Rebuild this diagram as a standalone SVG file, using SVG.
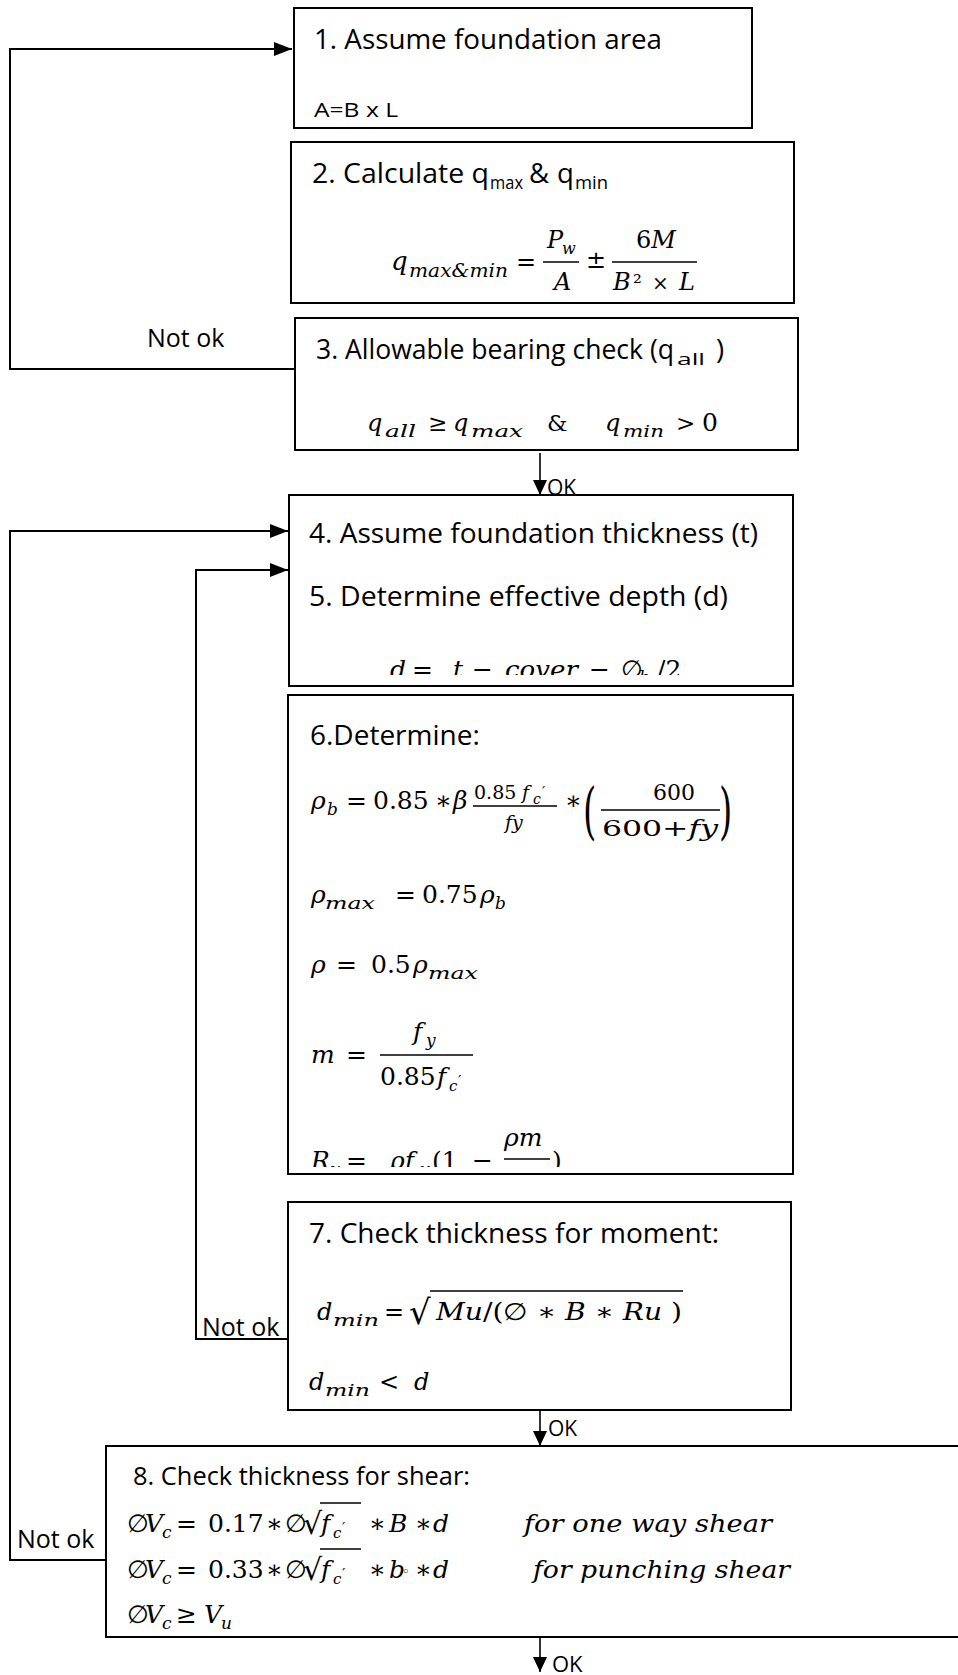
<svg xmlns="http://www.w3.org/2000/svg" width="958" height="1675" viewBox="0 0 958 1675">
<style>
.box{fill:#fff;stroke:#000;stroke-width:2}
.t{font-family:"Open Sans","Liberation Sans",sans-serif;fill:#000}
.mi{font-family:"DejaVu Serif","Liberation Serif",serif;font-style:italic;fill:#000}
.mn{font-family:"DejaVu Serif","Liberation Serif",serif;font-style:normal;fill:#000}
.conn{fill:none;stroke:#000;stroke-width:2}
.ok{fill:none;stroke:#000;stroke-width:1.6}
.bar{stroke:#000;stroke-width:1.4}
</style>
<defs>
<marker id="ah" markerUnits="userSpaceOnUse" markerWidth="18" markerHeight="14" refX="18" refY="7" orient="auto"><path d="M0,0 L18,7 L0,14 z" fill="#000"/></marker>
<marker id="ahs" markerUnits="userSpaceOnUse" markerWidth="15" markerHeight="14" refX="15" refY="7" orient="auto"><path d="M0,0 L15,7 L0,14 z" fill="#000"/></marker>
<clipPath id="c4"><rect x="289" y="496" width="503" height="179"/></clipPath>
<clipPath id="c6"><rect x="289" y="696" width="503" height="471"/></clipPath>
</defs>

<g id="connectors">
<polyline class="conn" points="300,369 10,369 10,49 292,49" marker-end="url(#ah)"/>
<polyline class="conn" points="106,1560 10,1560 10,531 288,531" marker-end="url(#ah)"/>
<polyline class="conn" points="288,1339 196,1339 196,570 288,570" marker-end="url(#ah)"/>
<line class="ok" x1="540" y1="453" x2="540" y2="495" marker-end="url(#ahs)"/>
<line class="ok" x1="540" y1="1408" x2="540" y2="1446" marker-end="url(#ahs)"/>
<line class="ok" x1="540" y1="1630" x2="540" y2="1672" marker-end="url(#ahs)"/>
<text class="t" x="147" y="347" font-size="25">Not ok</text>
<text class="t" x="202" y="1336" font-size="25">Not ok</text>
<text class="t" x="17" y="1548" font-size="25">Not ok</text>
<text class="t" x="547" y="495" font-size="21">OK</text>
<text class="t" x="548" y="1436" font-size="21">OK</text>
<text class="t" x="552" y="1672" font-size="22">OK</text>
</g>

<g id="node1">
<rect class="box" x="294" y="8" width="458" height="120"/>
<text class="t" x="314" y="49" font-size="27.5" textLength="348" lengthAdjust="spacingAndGlyphs">1. Assume foundation area</text>
<text class="t" x="314" y="117" font-size="20" textLength="84" lengthAdjust="spacingAndGlyphs">A=B x L</text>
</g>

<g id="node2">
<rect class="box" x="291" y="142" width="503" height="161"/>
<text class="t" x="312" y="183" font-size="27.5" textLength="177" lengthAdjust="spacingAndGlyphs">2. Calculate q</text>
<text class="t" x="490" y="189" font-size="18" textLength="33" lengthAdjust="spacingAndGlyphs">max</text>
<text class="t" x="529" y="183" font-size="27.5">&amp;</text>
<text class="t" x="557" y="183" font-size="27.5">q</text>
<text class="t" x="575" y="189" font-size="18" textLength="33" lengthAdjust="spacingAndGlyphs">min</text>
<text class="mi" x="391" y="270" font-size="26">q</text>
<text class="mi" x="409" y="277" font-size="19" textLength="99" lengthAdjust="spacingAndGlyphs">max&amp;min</text>
<text class="mn" x="516" y="270" font-size="24">=</text>
<line class="bar" x1="543" y1="262" x2="579" y2="262"/>
<text class="mi" x="547" y="248" font-size="24">P</text>
<text class="mi" x="562" y="254" font-size="16">w</text>
<text class="mi" x="554" y="290" font-size="24">A</text>
<text class="mn" x="586" y="268" font-size="24">±</text>
<line class="bar" x1="612" y1="262" x2="697" y2="262"/>
<text x="636" y="248" font-size="24"><tspan class="mn">6</tspan><tspan class="mi">M</tspan></text>
<text class="mi" x="613" y="290" font-size="24">B</text>
<text class="mn" x="633" y="290" font-size="22">²</text>
<text class="mn" x="652" y="290" font-size="20">×</text>
<text class="mi" x="679" y="290" font-size="24">L</text>
</g>

<g id="node3">
<rect class="box" x="295" y="318" width="503" height="132"/>
<text class="t" x="316" y="359" font-size="27.5" textLength="358" lengthAdjust="spacingAndGlyphs">3. Allowable bearing check (q</text>
<text class="t" x="677" y="365" font-size="17" textLength="28" lengthAdjust="spacingAndGlyphs">all</text>
<text class="t" x="716" y="359" font-size="27.5">)</text>
<text class="mi" x="367" y="431" font-size="24">q</text>
<text class="mi" x="385" y="437" font-size="17" textLength="31" lengthAdjust="spacingAndGlyphs">all</text>
<text class="mn" x="428" y="431" font-size="23">≥</text>
<text class="mi" x="453" y="431" font-size="24">q</text>
<text class="mi" x="471" y="437" font-size="17" textLength="52" lengthAdjust="spacingAndGlyphs">max</text>
<text class="mn" x="547" y="431" font-size="23">&amp;</text>
<text class="mi" x="605" y="431" font-size="24">q</text>
<text class="mi" x="623" y="437" font-size="17" textLength="41" lengthAdjust="spacingAndGlyphs">min</text>
<text class="mn" x="676" y="431" font-size="23">&gt;</text>
<text class="mn" x="702" y="431" font-size="25">0</text>
</g>

<g id="node4">
<rect class="box" x="289" y="495" width="504" height="191"/>
<text class="t" x="309" y="543" font-size="27.5" textLength="449" lengthAdjust="spacingAndGlyphs">4. Assume foundation thickness (t)</text>
<text class="t" x="309" y="606" font-size="27.5" textLength="419" lengthAdjust="spacingAndGlyphs">5. Determine effective depth (d)</text>
<g clip-path="url(#c4)">
<text class="mi" x="390" y="678" font-size="25">d</text>
<text class="mn" x="412" y="678" font-size="25">=</text>
<text class="mi" x="453" y="678" font-size="25">t</text>
<text class="mn" x="472" y="678" font-size="25">−</text>
<text class="mi" x="505" y="678" font-size="25" textLength="73" lengthAdjust="spacingAndGlyphs">cover</text>
<text class="mn" x="589" y="678" font-size="25">−</text>
<text class="mn" x="621" y="678" font-size="25">∅</text>
<text class="mi" x="639" y="683" font-size="17">b</text>
<text class="mn" x="657" y="678" font-size="25">/2</text>
</g>
</g>

<g id="node6">
<rect class="box" x="288" y="695" width="505" height="479"/>
<text class="t" x="310" y="745" font-size="28">6.Determine:</text>
<g clip-path="url(#c6)">
<text class="mi" x="311" y="809" font-size="25">ρ</text>
<text class="mi" x="327" y="815" font-size="17">b</text>
<text class="mn" x="346" y="809" font-size="25">=</text>
<text class="mn" x="373" y="809" font-size="25">0.85</text>
<text class="mn" x="435" y="809" font-size="25">∗</text>
<text class="mi" x="453" y="809" font-size="25">β</text>
<text class="mn" x="474" y="799" font-size="19">0.85</text>
<text class="mi" x="522" y="799" font-size="19">f</text>
<text class="mi" x="533" y="804" font-size="14">c</text>
<text class="mn" x="542" y="797" font-size="15">′</text>
<line class="bar" x1="473" y1="806" x2="557" y2="806"/>
<text class="mi" x="505" y="829" font-size="19">fy</text>
<text class="mn" x="565" y="809" font-size="25">∗</text>
<text class="mn" transform="translate(583,832) scale(0.55,1)" font-size="62">(</text>
<text class="mn" x="653" y="800" font-size="22">600</text>
<line class="bar" x1="601" y1="810" x2="720" y2="810"/>
<text x="602" y="836" font-size="22" textLength="116" lengthAdjust="spacingAndGlyphs"><tspan class="mn">600+</tspan><tspan class="mi">fy</tspan></text>
<text class="mn" transform="translate(719,832) scale(0.55,1)" font-size="62">)</text>

<text class="mi" x="311" y="903" font-size="25">ρ</text>
<text class="mi" x="325" y="909" font-size="17" textLength="50" lengthAdjust="spacingAndGlyphs">max</text>
<text class="mn" x="395" y="903" font-size="25">=</text>
<text class="mn" x="422" y="903" font-size="25">0.75</text>
<text class="mi" x="480" y="903" font-size="25">ρ</text>
<text class="mi" x="495" y="909" font-size="17">b</text>

<text class="mi" x="311" y="973" font-size="25">ρ</text>
<text class="mn" x="336" y="973" font-size="25">=</text>
<text class="mn" x="371" y="973" font-size="25">0.5</text>
<text class="mi" x="413" y="973" font-size="25">ρ</text>
<text class="mi" x="428" y="979" font-size="17" textLength="50" lengthAdjust="spacingAndGlyphs">max</text>

<text class="mi" x="311" y="1063" font-size="25">m</text>
<text class="mn" x="346" y="1063" font-size="25">=</text>
<line class="bar" x1="380" y1="1055" x2="473" y2="1055"/>
<text class="mi" x="413" y="1040" font-size="25">f</text>
<text class="mi" x="426" y="1046" font-size="17">y</text>
<text class="mn" x="380" y="1085" font-size="25">0.85</text>
<text class="mi" x="437" y="1085" font-size="25">f</text>
<text class="mi" x="449" y="1091" font-size="15">c</text>
<text class="mn" x="458" y="1086" font-size="15">′</text>

<text class="mi" x="311" y="1169" font-size="25">R</text>
<text class="mi" x="330" y="1175" font-size="17">u</text>
<text class="mn" x="346" y="1169" font-size="25">=</text>
<text class="mi" x="390" y="1169" font-size="25">ρf</text>
<text class="mi" x="420" y="1175" font-size="17">y</text>
<text class="mn" x="432" y="1169" font-size="25">(1</text>
<text class="mn" x="472" y="1169" font-size="25">−</text>
<text class="mi" x="504" y="1146" font-size="25">ρm</text>
<line class="bar" x1="504" y1="1159" x2="550" y2="1159"/>
<text class="mn" x="552" y="1169" font-size="25">)</text>
</g>
</g>

<g id="node7">
<rect class="box" x="288" y="1202" width="503" height="208"/>
<text class="t" x="309" y="1243" font-size="27.5" textLength="410" lengthAdjust="spacingAndGlyphs">7. Check thickness for moment:</text>
<text class="mi" x="317" y="1320" font-size="24">d</text>
<text class="mi" x="333" y="1326" font-size="17" textLength="46" lengthAdjust="spacingAndGlyphs">min</text>
<text class="mn" x="384" y="1320" font-size="24">=</text>
<text class="mn" x="409" y="1324" font-size="34">√</text>
<line class="bar" x1="430" y1="1291" x2="683" y2="1291"/>
<text x="436" y="1320" font-size="24" textLength="246" lengthAdjust="spacingAndGlyphs"><tspan class="mi">Mu</tspan><tspan class="mn">/(∅ ∗ </tspan><tspan class="mi">B</tspan><tspan class="mn"> ∗ </tspan><tspan class="mi">Ru</tspan><tspan class="mn"> )</tspan></text>
<text class="mi" x="309" y="1390" font-size="24">d</text>
<text class="mi" x="325" y="1396" font-size="17" textLength="45" lengthAdjust="spacingAndGlyphs">min</text>
<text class="mn" x="379" y="1390" font-size="24">&lt;</text>
<text class="mi" x="414" y="1390" font-size="24">d</text>
</g>

<g id="node8">
<rect class="box" x="106" y="1446" width="900" height="191"/>
<text class="t" x="133" y="1485" font-size="25.5" textLength="337" lengthAdjust="spacingAndGlyphs">8. Check thickness for shear:</text>

<text class="mn" x="127" y="1532" font-size="25">∅</text>
<text class="mi" x="145" y="1532" font-size="25">V</text>
<text class="mi" x="162" y="1538" font-size="17">c</text>
<text class="mn" x="176" y="1532" font-size="25">=</text>
<text class="mn" x="208" y="1532" font-size="25">0.17</text>
<text class="mn" x="266" y="1532" font-size="25">∗</text>
<text class="mn" x="285" y="1532" font-size="25">∅</text>
<text class="mn" x="303" y="1534" font-size="30">√</text>
<line class="bar" x1="320" y1="1503" x2="361" y2="1503"/>
<text class="mi" x="321" y="1532" font-size="25">f</text>
<text class="mi" x="333" y="1538" font-size="15">c</text>
<text class="mn" x="342" y="1533" font-size="15">′</text>
<text class="mn" x="369" y="1532" font-size="25">∗</text>
<text class="mi" x="389" y="1532" font-size="25">B</text>
<text class="mn" x="415" y="1532" font-size="25">∗</text>
<text class="mi" x="433" y="1532" font-size="25">d</text>
<text class="mi" x="524" y="1532" font-size="25" textLength="248" lengthAdjust="spacingAndGlyphs">for one way shear</text>

<text class="mn" x="127" y="1578" font-size="25">∅</text>
<text class="mi" x="145" y="1578" font-size="25">V</text>
<text class="mi" x="162" y="1584" font-size="17">c</text>
<text class="mn" x="176" y="1578" font-size="25">=</text>
<text class="mn" x="208" y="1578" font-size="25">0.33</text>
<text class="mn" x="266" y="1578" font-size="25">∗</text>
<text class="mn" x="285" y="1578" font-size="25">∅</text>
<text class="mn" x="303" y="1580" font-size="30">√</text>
<line class="bar" x1="320" y1="1549" x2="361" y2="1549"/>
<text class="mi" x="321" y="1578" font-size="25">f</text>
<text class="mi" x="333" y="1584" font-size="15">c</text>
<text class="mn" x="342" y="1579" font-size="15">′</text>
<text class="mn" x="369" y="1578" font-size="25">∗</text>
<text class="mi" x="389" y="1578" font-size="25">b</text>
<text class="mn" x="402" y="1576" font-size="13">◦</text>
<text class="mn" x="415" y="1578" font-size="25">∗</text>
<text class="mi" x="433" y="1578" font-size="25">d</text>
<text class="mi" x="533" y="1578" font-size="25" textLength="257" lengthAdjust="spacingAndGlyphs">for punching shear</text>

<text class="mn" x="127" y="1623" font-size="25">∅</text>
<text class="mi" x="145" y="1623" font-size="25">V</text>
<text class="mi" x="162" y="1629" font-size="17">c</text>
<text class="mn" x="176" y="1623" font-size="25">≥</text>
<text class="mi" x="204" y="1623" font-size="25">V</text>
<text class="mi" x="221" y="1629" font-size="17">u</text>
</g>
</svg>
